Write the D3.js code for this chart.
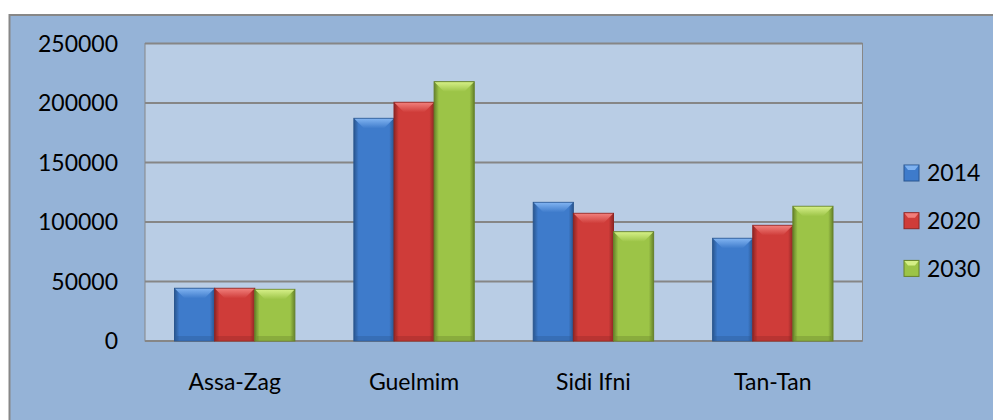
<!DOCTYPE html>
<html>
<head>
<meta charset="utf-8">
<script src="https://cdn.jsdelivr.net/npm/d3@7"></script>
<style>
  body { margin: 0; background: #fff; }
  svg text { font-family: Lato, "Liberation Sans", Arial, sans-serif; fill: #000; }
</style>
</head>
<body>
<div id="chart"></div>
<script>
const categories = ['Assa-Zag', 'Guelmim', 'Sidi Ifni', 'Tan-Tan'];
const seriesNames = ['2014', '2020', '2030'];
const values2014 = [44300, 187100, 116500, 86300];
const values2020 = [44300, 200600, 107300, 97200];
const values2030 = [43400, 217900, 91800, 113200];
const yTicks = [0, 50000, 100000, 150000, 200000, 250000];

const seriesValues = [values2014, values2020, values2030];
const colors = [
  { base: '#3e7bcb', light: '#7fb2f0', dark: '#2a568f' },
  { base: '#cf3c39', light: '#f07e7a', dark: '#8e2624' },
  { base: '#9cc447', light: '#d4ee86', dark: '#66822a' }
];

const W = 993, H = 420;
const plot = { left: 145, top: 43.5, right: 862.5, bottom: 341 };
const fontSize = '23px';

const svg = d3.select('#chart').append('svg')
  .attr('width', W)
  .attr('height', H);

const defs = svg.append('defs');
colors.forEach((c, i) => {
  const g = defs.append('linearGradient')
    .attr('id', 'grad' + i)
    .attr('x1', 0).attr('x2', 1).attr('y1', 0).attr('y2', 0);
  g.append('stop').attr('offset', '0%').attr('stop-color', c.dark);
  g.append('stop').attr('offset', '12%').attr('stop-color', c.base);
  g.append('stop').attr('offset', '88%').attr('stop-color', c.base);
  g.append('stop').attr('offset', '100%').attr('stop-color', c.dark);
  const t = defs.append('linearGradient')
    .attr('id', 'top' + i)
    .attr('x1', 0).attr('x2', 0).attr('y1', 0).attr('y2', 1);
  t.append('stop').attr('offset', '0%').attr('stop-color', c.light);
  t.append('stop').attr('offset', '100%').attr('stop-color', c.base);
});

// chart area background with border
svg.append('rect')
  .attr('x', 9.5).attr('y', 15)
  .attr('width', W + 10).attr('height', H + 10)
  .attr('fill', '#95b3d7')
  .attr('stroke', '#878787')
  .attr('stroke-width', 2);

// plot area
svg.append('rect')
  .attr('x', plot.left).attr('y', plot.top)
  .attr('width', plot.right - plot.left)
  .attr('height', plot.bottom - plot.top)
  .attr('fill', '#b9cde5')
  .attr('stroke', '#878787')
  .attr('stroke-width', 1);

const y = d3.scaleLinear()
  .domain([0, 250000])
  .range([plot.bottom, plot.top]);

const step = (plot.right - plot.left) / categories.length;
const x0 = d3.scaleBand()
  .domain(categories)
  .range([plot.left, plot.right])
  .paddingInner(59 / step)
  .paddingOuter(29.5 / step);

const x1 = d3.scaleBand()
  .domain(seriesNames)
  .range([0, x0.bandwidth()]);

// gridlines
svg.append('g')
  .selectAll('line')
  .data(yTicks)
  .join('line')
  .attr('x1', plot.left).attr('x2', plot.right)
  .attr('y1', d => y(d)).attr('y2', d => y(d))
  .attr('stroke', '#868686')
  .attr('stroke-width', 2);

// y labels
svg.append('g')
  .selectAll('text')
  .data(yTicks)
  .join('text')
  .attr('x', 118)
  .attr('y', d => y(d))
  .attr('dy', '0.36em')
  .attr('text-anchor', 'end')
  .style('font-size', fontSize)
  .text(d => d);

// bars
const rows = [];
categories.forEach((cat, ci) => {
  seriesNames.forEach((s, si) => {
    rows.push({ cat, s, si, v: seriesValues[si][ci] });
  });
});

const bev = 10;
const bar = svg.append('g')
  .selectAll('g')
  .data(rows)
  .join('g')
  .attr('transform', d => `translate(${x0(d.cat) + x1(d.s)},${y(d.v)})`);

bar.append('rect')
  .attr('width', x1.bandwidth())
  .attr('height', d => y(0) - y(d.v))
  .attr('fill', d => `url(#grad${d.si})`)
  .attr('stroke', d => colors[d.si].dark)
  .attr('stroke-width', 1);

// top bevel
bar.append('path')
  .attr('d', () => {
    const w = x1.bandwidth();
    return `M0.5,0.5 L${w - 0.5},0.5 L${w - bev},${bev} L${bev},${bev} Z`;
  })
  .attr('fill', d => `url(#top${d.si})`);

// bottom shade
bar.append('rect')
  .attr('x', 2)
  .attr('y', d => y(0) - y(d.v) - 5)
  .attr('width', x1.bandwidth() - 4)
  .attr('height', 4)
  .attr('fill', d => colors[d.si].dark)
  .attr('opacity', 0.35);

// category labels
svg.append('g')
  .selectAll('text')
  .data(categories)
  .join('text')
  .attr('x', d => x0(d) + x0.bandwidth() / 2)
  .attr('y', 390)
  .attr('text-anchor', 'middle')
  .style('font-size', fontSize)
  .text(d => d);

// legend
const legend = svg.append('g')
  .selectAll('g')
  .data(seriesNames)
  .join('g')
  .attr('transform', (d, i) => `translate(904,${173 + i * 47.7})`);

legend.append('rect')
  .attr('x', 0).attr('y', -8)
  .attr('width', 15).attr('height', 16)
  .attr('fill', (d, i) => colors[i].base)
  .attr('stroke', (d, i) => colors[i].dark);

legend.append('path')
  .attr('d', 'M0.5,-7.5 L14.5,-7.5 L11,-3 L4,-3 Z')
  .attr('fill', (d, i) => colors[i].light);

legend.append('text')
  .attr('x', 23)
  .attr('dy', '0.36em')
  .style('font-size', fontSize)
  .text(d => d);
</script>
</body>
</html>
